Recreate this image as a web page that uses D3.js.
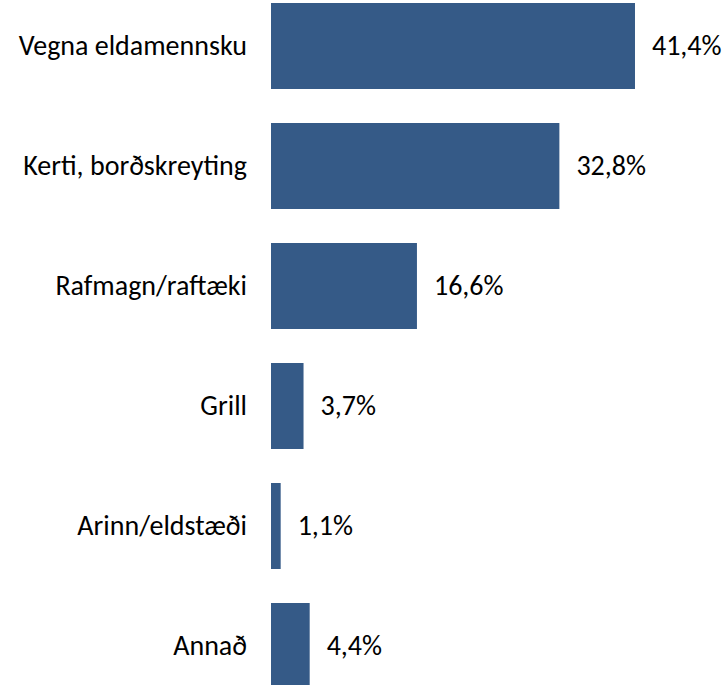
<!DOCTYPE html>
<html>
<head>
<meta charset="utf-8">
<script src="https://cdn.jsdelivr.net/npm/d3@7"></script>
<style>
  html, body { margin: 0; padding: 0; background: #ffffff; }
  svg { display: block; }
  text { font-family: Carlito, Calibri, Lato, sans-serif; fill: #000000; }
</style>
</head>
<body>
<svg id="chart" width="727" height="685"></svg>
<script>
// Orsakir: hlutfall eftir tegund (%)
const categories = ["Vegna eldamennsku", "Kerti, borðskreyting", "Rafmagn/raftæki", "Grill", "Arinn/eldstæði", "Annað"];
const values = [41.4, 32.8, 16.6, 3.7, 1.1, 4.4];
const valueLabels = ["41,4%", "32,8%", "16,6%", "3,7%", "1,1%", "4,4%"];

const svg = d3.select("#chart");
const fontSize = 28;

const x = d3.scaleLinear().domain([0, 45]).range([271, 271 + 45 * 8.792]);
const y = d3.scaleBand().domain(categories).range([3, 689]).paddingInner(34 / 120).paddingOuter(0);

const rows = categories.map((c, i) => ({ c, v: values[i], label: valueLabels[i] }));

svg.selectAll("rect.bar")
  .data(rows)
  .join("rect")
  .attr("class", "bar")
  .attr("x", x(0))
  .attr("y", d => y(d.c))
  .attr("width", d => x(d.v) - x(0))
  .attr("height", y.bandwidth())
  .attr("fill", "#355a87");

svg.selectAll("text.cat")
  .data(rows)
  .join("text")
  .attr("class", "cat")
  .attr("x", 247)
  .attr("y", d => y(d.c) + y.bandwidth() / 2)
  .attr("dy", "0.32em")
  .attr("text-anchor", "end")
  .style("font-size", fontSize + "px")
  .text(d => d.c);

svg.selectAll("text.val")
  .data(rows)
  .join("text")
  .attr("class", "val")
  .attr("x", d => x(d.v) + 17)
  .attr("y", d => y(d.c) + y.bandwidth() / 2)
  .attr("dy", "0.33em")
  .attr("text-anchor", "start")
  .style("font-size", fontSize + "px")
  .text(d => d.label);
</script>
</body>
</html>
